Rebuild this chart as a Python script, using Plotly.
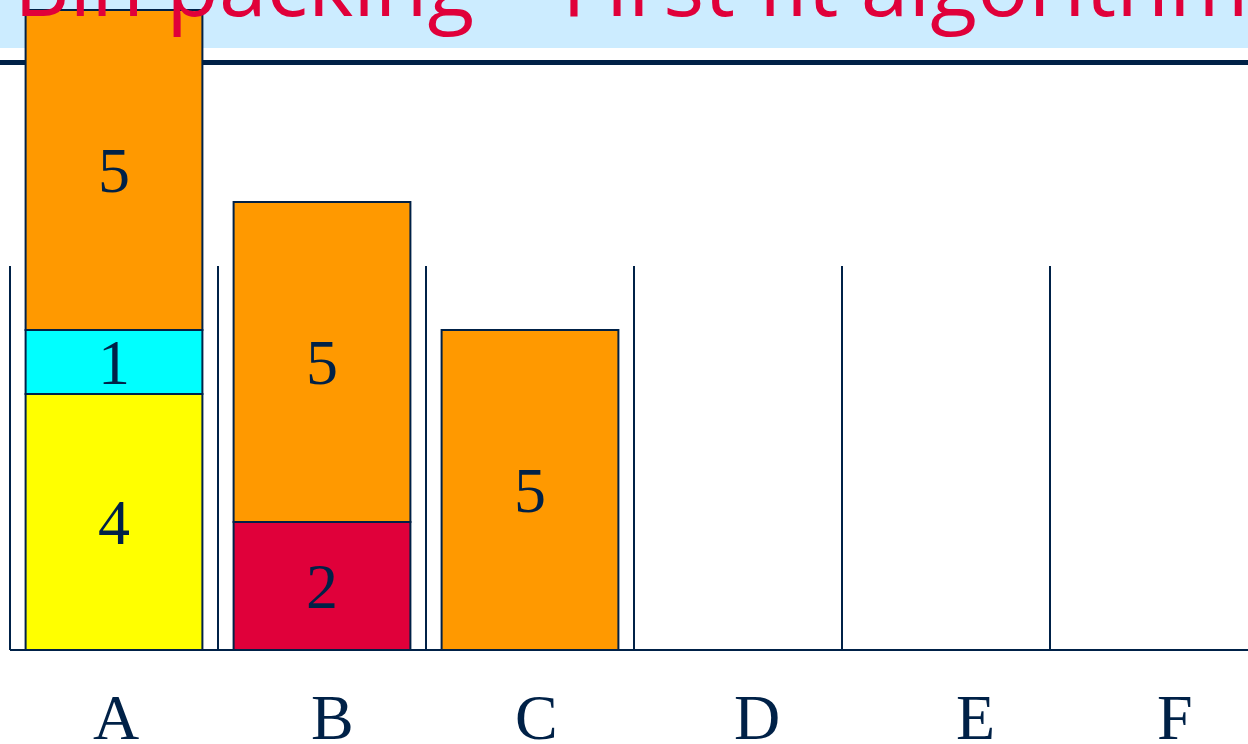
import plotly.graph_objects as go

# ---- data ----
bins = ["A", "B", "C", "D", "E", "F"]
bin_capacity = 6
layer1_vals = [4, 2, 5]
layer1_cols = ["#FFFF00", "#E0003A", "#FF9900"]
layer2_vals = [1, 5]
layer2_cols = ["#00FFFF", "#FF9900"]
layer3_vals = [5]
layer3_cols = ["#FF9900"]
title_text = "Bin packing \u2013 First fit algorithm"

NAVY = "#002147"
W, H = 1248, 744
label_offsets = [0.01, 0.05, 0.03, 0.09, 0.14, 0.10]

fig = go.Figure()

layers = [(layer1_vals, layer1_cols), (layer2_vals, layer2_cols), (layer3_vals, layer3_cols)]
base = [0.0] * len(bins)
annotations = []
for vals, cols in layers:
    xs = [i + 0.5 for i in range(len(vals))]
    bases = base[:len(vals)]
    fig.add_trace(go.Bar(
        x=xs, y=vals, base=bases, width=0.85,
        marker=dict(color=cols, line=dict(color=NAVY, width=2)),
        hoverinfo="skip", showlegend=False,
    ))
    for i, v in enumerate(vals):
        annotations.append(dict(
            x=xs[i], y=bases[i] + v / 2, xref="x", yref="y", text=str(v),
            showarrow=False, xanchor="center", yanchor="middle",
            font=dict(family="Liberation Serif", size=64, color=NAVY),
        ))
        base[i] += v

# bin walls
for i in range(len(bins)):
    fig.add_trace(go.Scatter(
        x=[i, i], y=[0, bin_capacity], mode="lines",
        line=dict(color=NAVY, width=2), hoverinfo="skip", showlegend=False,
    ))
fig.add_trace(go.Scatter(
    x=[0, len(bins) + 1], y=[0, 0], mode="lines",
    line=dict(color=NAVY, width=2), hoverinfo="skip", showlegend=False,
))

# bin labels
for i, b in enumerate(bins):
    annotations.append(dict(
        x=i + 0.5 + label_offsets[i], y=-1.05, xref="x", yref="y", text=b,
        showarrow=False, xanchor="center", yanchor="middle",
        font=dict(family="Liberation Serif", size=64, color=NAVY),
    ))

# title
annotations.append(dict(
    x=12 / W, y=1 + 17 / H, xref="paper", yref="paper", text=title_text,
    showarrow=False, xanchor="left", yanchor="middle",
    font=dict(family="Open Sans", size=86, color="#E0003A"),
))

shapes = [
    dict(type="rect", xref="paper", yref="paper", x0=0, x1=1, y0=1 - 48 / H, y1=1,
         fillcolor="#CCECFF", line=dict(width=0), layer="below"),
    dict(type="line", xref="paper", yref="paper", x0=0, x1=1, y0=1 - 62.5 / H, y1=1 - 62.5 / H,
         line=dict(color=NAVY, width=5), layer="below"),
]

x0 = -10 / 208
x1 = (W - 10) / 208
y1 = 650 / 64
y0 = (650 - H) / 64

fig.update_layout(
    width=W, height=H, margin=dict(l=0, r=0, t=0, b=0),
    paper_bgcolor="white", plot_bgcolor="white",
    barmode="overlay",
    xaxis=dict(range=[x0, x1], visible=False, fixedrange=True),
    yaxis=dict(range=[y0, y1], visible=False, fixedrange=True),
    annotations=annotations, shapes=shapes,
)

fig.write_html("out.html", config={"displayModeBar": False},
               post_script="document.body.style.margin='0px';document.body.style.overflow='hidden';")
